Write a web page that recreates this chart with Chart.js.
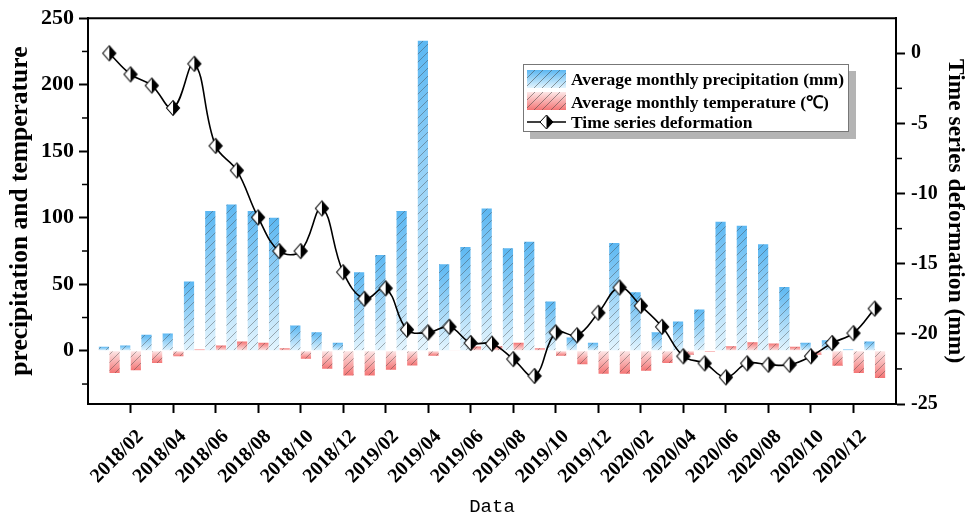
<!DOCTYPE html>
<html>
<head>
<meta charset="utf-8">
<script src="https://cdn.jsdelivr.net/npm/chart.js@4.4.0/dist/chart.umd.min.js"></script>
<style>
  html, body { margin: 0; padding: 0; background: #fff; }
  #wrap { position: relative; width: 969px; height: 518px; }
  #legend {
    position: absolute; left: 523px; top: 64px; width: 324px; height: 66px;
    border: 1px solid #777; background: #fff; box-shadow: 7px 7px 0 #b4b4b4;
    font: bold 17.5px 'Liberation Serif', 'Times New Roman', serif; color: #000;
  }
  .item { position: absolute; left: 3px; height: 20px; display: flex; align-items: center; white-space: nowrap; }
  .sw { width: 39px; height: 18px; margin-right: 5px; flex: none; }
  .blue { background: repeating-linear-gradient(135deg, transparent 0 5px, rgba(60,60,60,.5) 5px 6px), linear-gradient(#5bb7f2, #e4f5fe); }
  .red  { background: repeating-linear-gradient(135deg, transparent 0 5px, rgba(60,60,60,.5) 5px 6px), linear-gradient(#fde8e8, #f47575); }
</style>
</head>
<body>
<div id="wrap">
  <canvas id="c" width="969" height="518"></canvas>
  <div id="legend">
    <div class="item" style="top:4px"><div class="sw blue"></div>Average monthly precipitation (mm)</div>
    <div class="item" style="top:26px"><div class="sw red"></div>Average monthly temperature (℃)</div>
    <div class="item" style="top:47px">
      <svg class="sw" width="39" height="18"><line x1="0" y1="9" x2="39" y2="9" stroke="#000" stroke-width="1.6"/><polygon points="19.5,2 26,9 19.5,16 13,9" fill="#fff" stroke="#000" stroke-width="1"/><polygon points="19.5,2 26,9 19.5,16" fill="#000"/></svg>Time series deformation
    </div>
  </div>
</div>
<script>
'use strict';
// months 2018/01 .. 2021/01
const months = [
  '2018/01','2018/02','2018/03','2018/04','2018/05','2018/06','2018/07','2018/08','2018/09','2018/10','2018/11','2018/12',
  '2019/01','2019/02','2019/03','2019/04','2019/05','2019/06','2019/07','2019/08','2019/09','2019/10','2019/11','2019/12',
  '2020/01','2020/02','2020/03','2020/04','2020/05','2020/06','2020/07','2020/08','2020/09','2020/10','2020/11','2020/12',
  '2021/01'
];
const precipitation = [3, 4, 12, 13, 52, 105, 110, 105, 100, 19, 14, 6,
  59, 72, 105, 233, 65, 78, 107, 77, 82, 37, 10, 6,
  81, 44, 14, 22, 31, 97, 94, 80, 48, 6, 8, 1, 7];
const temperature = [-16.7, -14.7, -9.2, -4.2, 1, 4, 7, 6, 2, -6, -13.5, -18.5,
  -18.5, -14.2, -11, -3.7, 0.5, 3.2, 3.5, 6, 2, -3.7, -10.2, -17.2,
  -17.2, -15, -9.2, -3, -1, 3.5, 6.5, 5.5, 3, -3, -11.2, -16.7, -20.5];
const deformation = [0, -1.5, -2.3, -3.9, -0.75, -6.6, -8.35, -11.7, -14.1, -14.1, -11.06, -15.6,
  -17.5, -16.75, -19.7, -19.9, -19.5, -20.65, -20.7, -21.8, -23, -19.9, -20.1, -18.5,
  -16.7, -18, -19.5, -21.6, -22.1, -23.1, -22.1, -22.2, -22.2, -21.6, -20.65, -19.95, -18.2];

const leftTicks  = [0, 50, 100, 150, 200, 250];
const leftMinor  = [-25, 25, 75, 125, 175, 225];
const rightTicks = [-25, -20, -15, -10, -5, 0];
const rightMinor = [-22.5, -17.5, -12.5, -7.5, -2.5];
const xTicks = months.map((m, i) => i).filter(i => parseInt(months[i].slice(5)) % 2 === 0);

const serif = "'Liberation Serif', 'Times New Roman', serif";

// half white / half black diamond marker
const marker = document.createElement('canvas');
marker.width = 16; marker.height = 18;
(() => {
  const m = marker.getContext('2d');
  m.fillStyle = '#fff';
  m.beginPath(); m.moveTo(8, 1.5); m.lineTo(14.5, 9); m.lineTo(8, 16.5); m.lineTo(1.5, 9); m.closePath(); m.fill();
  m.fillStyle = '#000';
  m.beginPath(); m.moveTo(8, 1.5); m.lineTo(14.5, 9); m.lineTo(8, 16.5); m.closePath(); m.fill();
  m.strokeStyle = '#000'; m.lineWidth = 1.1;
  m.beginPath(); m.moveTo(8, 1.5); m.lineTo(14.5, 9); m.lineTo(8, 16.5); m.lineTo(1.5, 9); m.closePath(); m.stroke();
})();

function barFill(far, near) {
  return (c) => {
    if (c.type !== 'data') return far;
    const s = c.chart.scales.y;
    if (!s) return far;
    const p0 = s.getPixelForValue(0), p1 = s.getPixelForValue(c.parsed.y);
    if (!isFinite(p0) || !isFinite(p1)) return far;
    if (Math.abs(p1 - p0) < 1) return near;
    const g = c.chart.ctx.createLinearGradient(0, p1, 0, p0);
    g.addColorStop(0, far);
    g.addColorStop(1, near);
    return g;
  };
}

const hatchPlugin = {
  id: 'hatch',
  afterDatasetDraw(chart, args) {
    const meta = args.meta;
    if (meta.type !== 'bar') return;
    const c = chart.ctx;
    meta.data.forEach(el => {
      const { x, y, base, width } = el.getProps(['x', 'y', 'base', 'width'], true);
      const l = x - width / 2, r = x + width / 2, t = Math.min(y, base), b = Math.max(y, base);
      if (b - t < 1.5) return;
      c.save();
      c.beginPath(); c.rect(l, t, r - l, b - t); c.clip();
      c.strokeStyle = 'rgba(60,60,60,0.5)'; c.lineWidth = 0.8;
      c.beginPath();
      for (let k = Math.floor((l + t) / 8) * 8; k < r + b + 8; k += 8) {
        c.moveTo(k - b, b); c.lineTo(k - t, t);
      }
      c.stroke();
      c.restore();
    });
  }
};

const framePlugin = {
  id: 'frame',
  afterDraw(chart) {
    const { ctx: c, chartArea: a, scales } = chart;
    c.save();
    c.strokeStyle = '#000'; c.lineWidth = 2;
    c.beginPath(); c.moveTo(a.left - 1, a.top); c.lineTo(a.right + 1, a.top); c.stroke();
    c.lineWidth = 1.5;
    leftMinor.forEach(v => {
      const py = scales.y.getPixelForValue(v);
      c.beginPath(); c.moveTo(a.left - 6, py); c.lineTo(a.left, py); c.stroke();
    });
    rightMinor.forEach(v => {
      const py = scales.y2.getPixelForValue(v);
      c.beginPath(); c.moveTo(a.right, py); c.lineTo(a.right + 6, py); c.stroke();
    });
    c.restore();
  }
};

const axisGrid = { drawOnChartArea: false, tickLength: 9, tickWidth: 2, tickColor: '#000', offset: false };
const axisBorder = { display: true, color: '#000', width: 2 };

new Chart(document.getElementById('c'), {
  type: 'bar',
  data: {
    datasets: [
      {
        label: 'Average monthly precipitation (mm)',
        data: months.map((m, i) => ({ x: i, y: precipitation[i] })),
        yAxisID: 'y', order: 2,
        backgroundColor: barFill('#5bb7f2', '#e4f5fe'),
        categoryPercentage: 1, barPercentage: 0.96,
      },
      {
        label: 'Average monthly temperature (℃)',
        data: months.map((m, i) => ({ x: i, y: temperature[i] })),
        yAxisID: 'y', order: 2,
        backgroundColor: barFill('#f47575', '#fde8e8'),
        categoryPercentage: 1, barPercentage: 0.96,
      },
      {
        type: 'line',
        label: 'Time series deformation',
        data: months.map((m, i) => ({ x: i, y: deformation[i] })),
        yAxisID: 'y2', order: 0,
        borderColor: '#000', borderWidth: 1.6, tension: 0.4,
        pointStyle: marker, pointRadius: 8,
      },
    ],
  },
  options: {
    responsive: false, animation: false,
    layout: { padding: { top: 17, left: 0, right: 0, bottom: 0 } },
    plugins: { legend: { display: false }, tooltip: { enabled: false } },
    scales: {
      x: {
        type: 'linear', min: -1, max: 37, offset: false,
        grid: axisGrid, border: axisBorder,
        afterBuildTicks: s => { s.ticks = xTicks.map(v => ({ value: v })); },
        afterFit: s => { s.height = 114; },
        ticks: {
          callback: v => months[v], autoSkip: false, minRotation: 45, maxRotation: 45,
          color: '#000', padding: 12, labelOffset: 10, font: { family: serif, size: 20, weight: 'bold' },
        },
        title: { display: true, text: 'Data', color: '#000', padding: 0,
          font: { family: "'Liberation Mono', monospace", size: 19, weight: 'normal' } },
      },
      y: {
        position: 'left', min: -40, max: 250,
        grid: axisGrid, border: axisBorder,
        afterBuildTicks: s => { s.ticks = leftTicks.map(v => ({ value: v })); },
        afterFit: s => { s.width = 88; },
        ticks: { color: '#000', padding: 5, font: { family: serif, size: 22, weight: 'bold' } },
        title: { display: true, text: 'precipitation and temperature', color: '#000', padding: { top: 5, bottom: 0 },
          font: { family: serif, size: 25.5, weight: 'bold' } },
      },
      y2: {
        position: 'right', min: -25, max: 2.5,
        grid: axisGrid, border: axisBorder,
        afterBuildTicks: s => { s.ticks = rightTicks.map(v => ({ value: v })); },
        afterFit: s => { s.width = 73; },
        ticks: { color: '#000', padding: 6, font: { family: serif, size: 20, weight: 'bold' } },
        title: { display: true, text: 'Time series deformation (mm)', color: '#000', padding: 0,
          font: { family: serif, size: 23.5, weight: 'bold' } },
      },
    },
  },
  plugins: [hatchPlugin, framePlugin],
});
</script>
</body>
</html>
